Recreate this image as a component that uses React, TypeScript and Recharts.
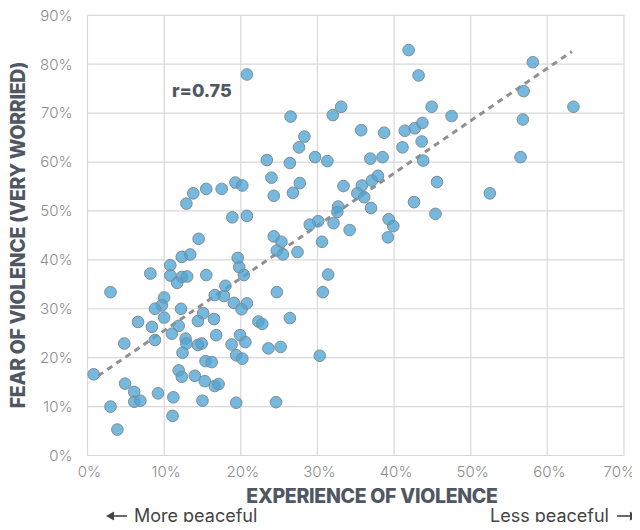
import * as React from "react";
import {
  CartesianGrid,
  ReferenceLine,
  Scatter,
  ScatterChart,
  XAxis,
  YAxis,
} from "recharts";

// 暴力の経験率（x）と暴力への恐れ（y, very worried）— 国ごとの散布図
const EXPERIENCE: number[] = [
  20.8, 12.9, 13.8, 15.5, 17.5, 19.3, 20.2, 18.9, 20.8, 14.5,
  12.3, 13.4, 10.8, 8.2, 10.8, 12.3, 13.0, 11.7, 15.5, 19.6,
  19.8, 20.4, 3.0, 18.0, 16.6, 17.8, 10.0, 9.7, 8.8, 12.2,
  19.1, 20.8, 20.1, 22.3, 10.0, 6.6, 8.4, 11.9, 14.4, 15.1,
  16.5, 11.0, 8.8, 4.8, 12.8, 12.9, 16.8, 14.4, 14.9, 18.8,
  19.9, 20.6, 12.4, 19.4, 20.2, 15.4, 16.2, 0.8, 11.9, 12.3,
  14.0, 15.3, 16.6, 17.1, 4.9, 6.1, 6.1, 6.9, 9.2, 11.2,
  15.0, 19.4, 3.0, 11.1, 3.9,
  41.9, 43.2, 44.9, 26.5, 32.0, 33.1, 35.7, 38.7, 41.4, 42.7,
  43.7, 28.3, 27.6, 41.1, 43.6, 23.4, 26.4, 29.7, 31.3, 36.9,
  38.5, 43.8, 45.6, 24.0, 24.3, 27.7, 26.8, 33.4, 35.8, 37.1,
  37.9, 35.2, 36.1, 37.0, 42.6, 45.4, 32.7, 32.6, 39.3, 39.9,
  39.2, 34.2, 30.1, 29.0, 32.1, 24.3, 25.3, 30.6,
  24.7, 25.5, 27.4, 31.4, 24.7, 30.7, 22.8, 26.4, 23.6, 25.2,
  30.3, 24.6,
  58.1, 56.9, 63.4, 47.5, 56.8, 56.5, 52.5,
];

const FEAR: number[] = [
  77.9, 51.5, 53.6, 54.5, 54.5, 55.8, 55.2, 48.7, 49.0, 44.3,
  40.6, 41.1, 38.9, 37.2, 36.8, 36.5, 36.6, 35.3, 36.9, 40.4,
  38.5, 36.9, 33.4, 34.7, 32.8, 32.6, 32.3, 30.7, 30.0, 30.0,
  31.2, 31.1, 29.9, 27.4, 28.2, 27.3, 26.3, 26.5, 27.5, 29.1,
  27.9, 24.9, 23.6, 22.9, 23.9, 22.9, 24.6, 22.6, 22.9, 22.7,
  24.6, 23.2, 21.0, 20.5, 19.8, 19.3, 19.1, 16.6, 17.4, 16.1,
  16.3, 15.2, 14.2, 14.6, 14.7, 13.0, 11.0, 11.2, 12.7, 11.9,
  11.2, 10.8, 10.0, 8.1, 5.3,
  82.9, 77.7, 71.3, 69.3, 69.6, 71.3, 66.5, 66.0, 66.4, 66.9,
  68.0, 65.2, 63.0, 63.0, 64.2, 60.4, 59.8, 61.0, 60.2, 60.7,
  61.0, 60.3, 55.9, 56.8, 53.1, 55.7, 53.7, 55.1, 55.2, 56.2,
  57.2, 53.6, 52.8, 50.6, 51.8, 49.4, 50.9, 49.8, 48.3, 46.9,
  44.6, 46.1, 47.9, 47.2, 47.5, 44.8, 43.7, 43.7,
  41.9, 41.1, 41.6, 37.0, 33.4, 33.4, 26.9, 28.1, 21.9, 22.2,
  20.4, 10.9,
  80.4, 74.5, 71.3, 69.4, 68.7, 61.0, 53.6,
];

const X_TICKS = [0, 10, 20, 30, 40, 50, 60, 70];
const Y_TICKS = [0, 10, 20, 30, 40, 50, 60, 70, 80, 90];

// 回帰線の両端（破線）
const TREND_START = { x: 1.4, y: 16.3 };
const TREND_END = { x: 63.2, y: 82.6 };

const CORRELATION = "r=0.75";
const X_TITLE = "EXPERIENCE OF VIOLENCE";
const Y_TITLE = "FEAR OF VIOLENCE (VERY WORRIED)";
const LEFT_NOTE = "More peaceful";
const RIGHT_NOTE = "Less peaceful";

const FONT = "Inter, 'Noto Sans', sans-serif";
const TITLE_COLOR = "#4e5762";
const TICK_COLOR = "#8c8c8c";
const GRID = "#d8d8d8";
const NOTE_COLOR = "#444";

const data = EXPERIENCE.map((x, i) => ({ x, y: FEAR[i] }));

function Dot(props: { cx?: number; cy?: number }): React.ReactElement {
  const { cx = 0, cy = 0 } = props;
  return (
    <circle
      cx={cx}
      cy={cy}
      r={5.8}
      fill="#4ea5d6"
      fillOpacity={0.78}
      stroke="#7f8b95"
      strokeWidth={1}
    />
  );
}

const pct = (v: number) => `${v}%`;

/// x 軸目盛り。右端の 70% は枠からはみ出さないよう右寄せにする。
function XTick(props: { x?: number; y?: number; payload?: { value: number } }): React.ReactElement {
  const { x = 0, y = 0, payload } = props;
  const v = payload ? payload.value : 0;
  const last = v === X_TICKS[X_TICKS.length - 1];
  return (
    <text
      x={last ? x + 11 : x + 2}
      y={y + 7}
      textAnchor={last ? "end" : "middle"}
      dominantBaseline="hanging"
      fill={TICK_COLOR}
      fontSize={15}
      fontFamily={FONT}
      fontWeight={300}
    >
      {pct(v)}
    </text>
  );
}

/// 注記の矢印（線＋塗りの三角）。dir=-1 で左向き。
function Arrow({ x, y, dir }: { x: number; y: number; dir: 1 | -1 }): React.ReactElement {
  const len = 21;
  const tip = x + (dir > 0 ? len : 0);
  const tail = x + (dir > 0 ? 0 : len);
  const base = tip - dir * 8;
  return (
    <g fill={NOTE_COLOR} stroke={NOTE_COLOR}>
      <line x1={tail} y1={y} x2={base} y2={y} strokeWidth={1.6} />
      <polygon points={`${tip},${y} ${base},${y - 4.5} ${base},${y + 4.5}`} stroke="none" />
    </g>
  );
}

export default function App(): React.ReactElement {
  const tick = { fill: TICK_COLOR, fontSize: 15, fontFamily: FONT, fontWeight: 300 };
  const title = {
    fontFamily: FONT,
    fontSize: 19.5,
    fontWeight: 800,
    fill: TITLE_COLOR,
    letterSpacing: -0.3,
  };
  const note = { fontFamily: FONT, fontSize: 18, fontWeight: 400, fill: NOTE_COLOR };
  return (
    <div style={{ position: "relative", width: 640, height: 530, margin: -8, background: "#fff" }}>
      <ScatterChart
        width={640}
        height={530}
        margin={{ top: 15.3, right: 16, bottom: 44.5, left: 27.5 }}
      >
        <CartesianGrid stroke={GRID} strokeWidth={1.2} />
        <XAxis
          type="number"
          dataKey="x"
          domain={[0, 70]}
          ticks={X_TICKS}
          tick={XTick}
          tickLine={false}
          axisLine={{ stroke: GRID, strokeWidth: 1.2 }}
          tickSize={0}
          height={30}
          interval={0}
        />
        <YAxis
          type="number"
          dataKey="y"
          domain={[0, 90]}
          ticks={Y_TICKS}
          tickFormatter={pct}
          tick={tick}
          tickLine={false}
          axisLine={false}
          tickSize={6}
          tickMargin={9}
          width={60}
          interval={0}
        />
        <Scatter data={data} shape={Dot} isAnimationActive={false} />
        <ReferenceLine
          segment={[TREND_START, TREND_END]}
          stroke="#909090"
          strokeWidth={3}
          strokeDasharray="6 5"
        />
      </ScatterChart>
      <svg
        width={640}
        height={530}
        style={{ position: "absolute", left: 0, top: 0, pointerEvents: "none" }}
      >
        <text x={172} y={90} dominantBaseline="central" {...title} fontSize={18} letterSpacing={0}>
          {CORRELATION}
        </text>
        <text x={372} y={496} textAnchor="middle" dominantBaseline="central" {...title}>
          {X_TITLE}
        </text>
        <text
          transform="translate(18,235) rotate(-90)"
          textAnchor="middle"
          dominantBaseline="central"
          {...title}
        >
          {Y_TITLE}
        </text>
        <Arrow x={106} y={516} dir={-1} />
        <text x={134} y={515} dominantBaseline="central" {...note}>
          {LEFT_NOTE}
        </text>
        <text x={490} y={515} dominantBaseline="central" {...note}>
          {RIGHT_NOTE}
        </text>
        <Arrow x={617} y={516} dir={1} />
      </svg>
    </div>
  );
}
